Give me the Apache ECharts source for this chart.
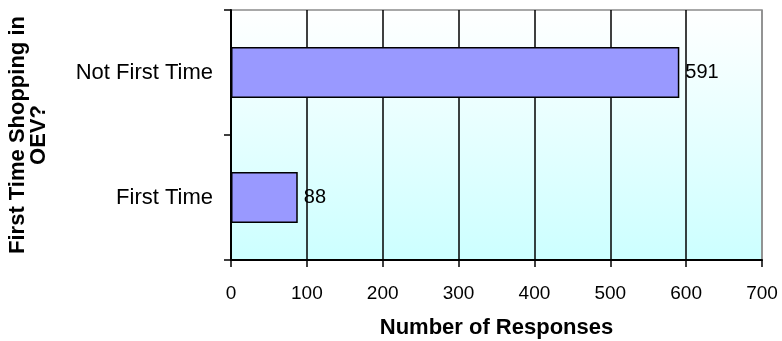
<!DOCTYPE html>
<html>
<head>
<meta charset="utf-8">
<script src="https://cdn.jsdelivr.net/npm/echarts@6/dist/echarts.min.js"></script>
<style>
  html, body { margin: 0; padding: 0; background: #ffffff; }
  #chart { width: 782px; height: 341px; }
</style>
</head>
<body>
<div id="chart"></div>
<script>
// Responses by whether the visit is the first time shopping in OEV
const categories = ['First Time', 'Not First Time'];
const responses = [88, 591];
const xTicks = [0, 100, 200, 300, 400, 500, 600, 700];

const chart = echarts.init(document.getElementById('chart'), null, { renderer: 'canvas' });

const FONT = 'Arial, "Liberation Sans", sans-serif';

// Interior grid lines are black; the last one (at the max) is the grey frame edge
const splitColors = xTicks.map((v, i) => (i === xTicks.length - 1 ? '#8c8c8c' : '#000000'));

chart.setOption({
  animation: false,
  backgroundColor: '#ffffff',
  grid: {
    left: 231,
    right: 20,
    top: 10,
    bottom: 81,
    containLabel: false,
    outerBoundsMode: 'none',
    show: true,
    borderColor: '#8c8c8c',
    borderWidth: 1.5,
    backgroundColor: new echarts.graphic.LinearGradient(0, 0, 0, 1, [
      { offset: 0, color: '#ffffff' },
      { offset: 1, color: '#ccffff' }
    ])
  },
  xAxis: {
    type: 'value',
    min: xTicks[0],
    max: xTicks[xTicks.length - 1],
    interval: 100,
    name: 'Number of Responses',
    nameLocation: 'middle',
    nameGap: 57,
    nameTextStyle: { fontFamily: FONT, fontSize: 22, fontWeight: 'bold', color: '#000' },
    axisLine: { show: true, lineStyle: { color: '#000', width: 2 } },
    axisTick: { show: true, length: 7, lineStyle: { color: '#000', width: 1.5 } },
    axisLabel: { fontFamily: FONT, fontSize: 19, color: '#000', margin: 24 },
    splitLine: { show: true, lineStyle: { color: splitColors, width: 1.5 } }
  },
  yAxis: {
    type: 'category',
    data: categories,
    name: 'First Time Shopping in\nOEV?',
    nameLocation: 'middle',
    nameRotate: 90,
    nameGap: 182,
    nameTextStyle: { fontFamily: FONT, fontSize: 22, fontWeight: 'bold', color: '#000', lineHeight: 21 },
    axisLine: { show: true, lineStyle: { color: '#000', width: 2 } },
    axisTick: { show: true, length: 7, alignWithLabel: false, lineStyle: { color: '#000', width: 1.5 } },
    axisLabel: { fontFamily: FONT, fontSize: 22, color: '#000', margin: 18 },
    splitLine: { show: false }
  },
  series: [{
    type: 'bar',
    data: responses,
    barWidth: 51,
    itemStyle: { color: '#9999ff', borderColor: '#000', borderWidth: 1.5 },
    label: {
      show: true,
      position: 'right',
      distance: 6,
      fontFamily: FONT,
      fontSize: 20,
      color: '#000'
    }
  }]
});
</script>
</body>
</html>
